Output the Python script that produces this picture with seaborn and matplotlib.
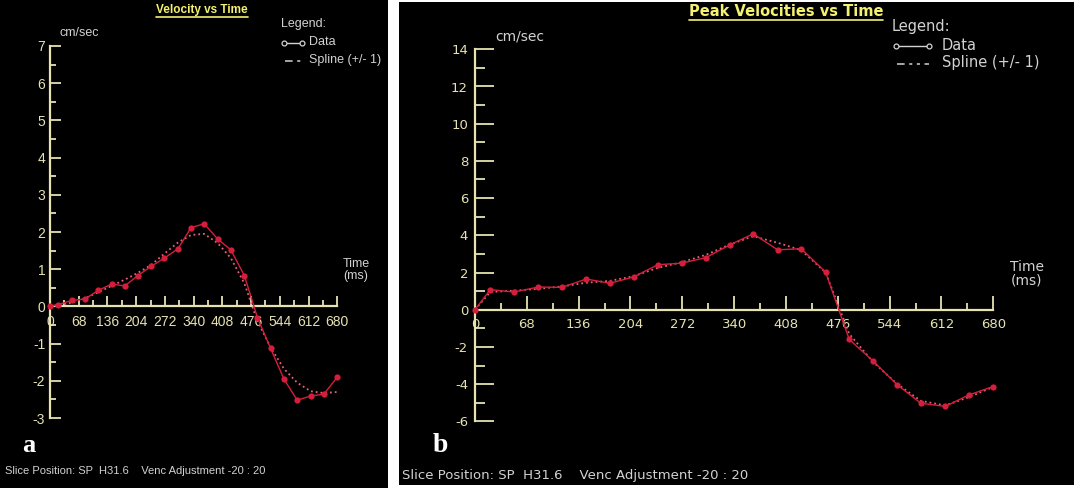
import matplotlib
matplotlib.use("Agg")
import matplotlib.pyplot as plt
import seaborn as sns
from matplotlib.lines import Line2D
from matplotlib.patches import Rectangle
from matplotlib.ticker import MultipleLocator

# ---------------- data ----------------
time_ms = [0, 20, 51, 83, 114, 146, 177, 208, 240, 271, 303, 334,
           365, 397, 428, 460, 491, 522, 554, 585, 617, 648, 680]

vel_a = [0.0, 0.05, 0.16, 0.2, 0.43, 0.6, 0.55, 0.83, 1.08, 1.3, 1.55, 2.12,
         2.22, 1.81, 1.52, 0.83, -0.3, -1.13, -1.96, -2.52, -2.41, -2.36, -1.9]
spline_a = [0.0, 0.03, 0.1, 0.22, 0.38, 0.55, 0.72, 0.9, 1.12, 1.42, 1.72, 1.92,
            1.95, 1.7, 1.3, 0.62, -0.4, -1.1, -1.68, -2.05, -2.28, -2.33, -2.3]

vel_b = [0.0, 1.08, 0.95, 1.22, 1.2, 1.65, 1.42, 1.76, 2.42, 2.5, 2.8, 3.48,
         4.08, 3.22, 3.28, 2.02, -1.6, -2.75, -4.04, -5.03, -5.2, -4.58, -4.13]
spline_b = [0.0, 0.95, 1.02, 1.12, 1.25, 1.45, 1.55, 1.8, 2.25, 2.55, 2.95, 3.5,
            3.95, 3.6, 3.2, 2.0, -1.3, -2.8, -4.0, -4.9, -5.15, -4.7, -4.15]

x_ticks = [0, 68, 136, 204, 272, 340, 408, 476, 544, 612, 680]
title_a = "Velocity vs Time"
title_b = "Peak Velocities vs Time"
footer_a = "Slice Position: SP  H31.6    Venc Adjustment -20 : 20"
footer_b = "Slice Position: SP  H31.6    Venc Adjustment -20 : 20"

# ---------------- style ----------------
sns.set_theme(style="white")
plt.rcParams["font.family"] = ["Liberation Sans", "DejaVu Sans"]
plt.rcParams["axes.unicode_minus"] = False

W, H = 1074, 488
AXC = "#E6E2B2"
TITC = "#F4F070"
LEGC = "#D2D2D2"
RED = "#D41E3C"
PINK = "#E86078"
NARROW = ["Liberation Sans", "DejaVu Sans"]
WIDE = ["DejaVu Sans"]

fig = plt.figure(figsize=(W / 100, H / 100), dpi=100)
fig.patch.set_facecolor("white")


def frac_rect(x0, y0, x1, y1):
    return [x0 / W, 1 - y1 / H, (x1 - x0) / W, (y1 - y0) / H]


def fx(x):
    return x / W


def fy(y):
    return 1 - y / H


# black panels
for (x0, y0, x1, y1) in [(0, 0, 388, 488), (399, 2, 1074, 485)]:
    r = frac_rect(x0, y0, x1, y1)
    fig.add_artist(Rectangle((r[0], r[1]), r[2], r[3], transform=fig.transFigure,
                             facecolor="black", edgecolor="none", zorder=0))


def make_axes(rect, ylim, ymajor, yminor, vel, spl, family, fs, ymaj_len,
              ymin_len, xmaj_len, xmin_len, ypad, xpad):
    ax = fig.add_axes(rect)
    ax.patch.set_alpha(0)
    ax.set_xlim(0, 680)
    ax.set_ylim(*ylim)
    for s in ["top", "right"]:
        ax.spines[s].set_visible(False)
    ax.spines["bottom"].set_position(("data", 0))
    for s in ["bottom", "left"]:
        ax.spines[s].set_color(AXC)
        ax.spines[s].set_linewidth(1.6)
    ax.xaxis.set_minor_locator(MultipleLocator(34))
    ax.yaxis.set_major_locator(MultipleLocator(ymajor))
    ax.yaxis.set_minor_locator(MultipleLocator(yminor))
    ax.set_xticks(x_ticks)
    ax.set_xticklabels([str(v) for v in x_ticks])
    ax.tick_params(axis="both", which="both", bottom=True, left=True,
                   top=False, right=False)
    ax.tick_params(axis="x", which="major", direction="in", length=xmaj_len,
                   width=1.3, color=AXC, labelcolor=AXC, pad=xpad, labelsize=fs)
    ax.tick_params(axis="x", which="minor", direction="in", length=xmin_len,
                   width=1.3, color=AXC)
    ax.tick_params(axis="y", which="major", direction="in", length=ymaj_len,
                   width=1.3, color=AXC, labelcolor=AXC, pad=ypad, labelsize=fs)
    ax.tick_params(axis="y", which="minor", direction="in", length=ymin_len,
                   width=1.3, color=AXC)
    for lab in ax.get_xticklabels() + ax.get_yticklabels():
        lab.set_family(family)
    ax.grid(False)
    sns.lineplot(x=time_ms, y=spl, ax=ax, color=PINK, lw=1.3, linestyle=":",
                 clip_on=False, zorder=3)
    sns.lineplot(x=time_ms, y=vel, ax=ax, color=RED, lw=1.0, marker="o",
                 markersize=4.5, markeredgewidth=0, clip_on=False, zorder=4)
    ax.set_xlabel("")
    ax.set_ylabel("")
    return ax


ax_a = make_axes(frac_rect(50, 46, 337.3, 418), (-3, 7), 1, 0.5, vel_a, spline_a,
                 NARROW, 10, 8, 4, 7, 4, 3.5, 6)
ax_b = make_axes(frac_rect(475, 49.3, 993.3, 421.3), (-6, 14), 2, 1, vel_b, spline_b,
                 WIDE, 9.5, 14, 7, 10, 5, 5, 6)

# ---------------- texts ----------------
titles = []
titles.append(fig.text(fx(202), fy(10), title_a, ha="center", va="center",
                       color=TITC, fontsize=8.5, fontweight="bold", family=NARROW))
titles.append(fig.text(fx(786), fy(12), title_b, ha="center", va="center",
                       color=TITC, fontsize=10.5, fontweight="bold", family=WIDE))

# unit labels
fig.text(fx(60), fy(33), "cm/sec", ha="left", va="center", color=LEGC,
         fontsize=9, family=NARROW)
fig.text(fx(495), fy(37), "cm/sec", ha="left", va="center", color=LEGC,
         fontsize=10, family=WIDE)
fig.text(fx(356), fy(270), "Time\n(ms)", ha="center", va="center", color=LEGC,
         fontsize=9, family=NARROW, linespacing=1.0)
fig.text(fx(1027), fy(274), "Time\n(ms)", ha="center", va="center", color=LEGC,
         fontsize=10, family=WIDE, linespacing=0.95)


# legends (manual layout with text + line handles)
def legend(x_head, y_head, x_sym0, x_sym1, x_txt, y1, y2, fs, family):
    fig.text(fx(x_head), fy(y_head), "Legend:", ha="left", va="center",
             color=LEGC, fontsize=fs, family=family)
    fig.add_artist(Line2D([fx(x_sym0), fx(x_sym1)], [fy(y1), fy(y1)],
                          transform=fig.transFigure, color=LEGC, lw=1,
                          marker="o", ms=3.5, mfc="black", mec=LEGC, mew=0.9))
    fig.text(fx(x_txt), fy(y1 - 1), "Data", ha="left", va="center",
             color=LEGC, fontsize=fs, family=family)
    fig.add_artist(Line2D([fx(x_sym0 + 1), fx(x_sym1)], [fy(y2), fy(y2)],
                          transform=fig.transFigure, color=LEGC, lw=1.1,
                          linestyle=(0, (5, 3, 2, 3, 2, 3))))
    fig.text(fx(x_txt), fy(y2 - 1), "Spline (+/- 1)", ha="left", va="center",
             color=LEGC, fontsize=fs, family=family)


legend(281, 24, 284, 302, 309, 43, 61, 9, NARROW)
legend(892, 27, 896, 929, 942, 46, 64, 10.5, WIDE)

# panel letters
fig.text(fx(29), fy(446), "a", ha="center", va="center", color="white",
         fontsize=19, fontweight="bold", family=["Liberation Serif", "DejaVu Serif"])
fig.text(fx(440), fy(446), "b", ha="center", va="center", color="white",
         fontsize=20, fontweight="bold", family=["Liberation Serif", "DejaVu Serif"])

# footers
fig.text(fx(5), fy(471), footer_a, ha="left", va="center", color=LEGC,
         fontsize=8, family=NARROW)
fig.text(fx(402), fy(476), footer_b, ha="left", va="center", color=LEGC,
         fontsize=9.5, family=WIDE)

# underline titles
renderer = fig.canvas.get_renderer()
for t in titles:
    bb = t.get_window_extent(renderer)
    yline = (bb.y0 - 0.5) / H
    fig.add_artist(Line2D([bb.x0 / W, bb.x1 / W], [yline, yline],
                          transform=fig.transFigure, color=TITC, lw=1.2))

fig.savefig("out.png", dpi=100, facecolor=fig.get_facecolor())
